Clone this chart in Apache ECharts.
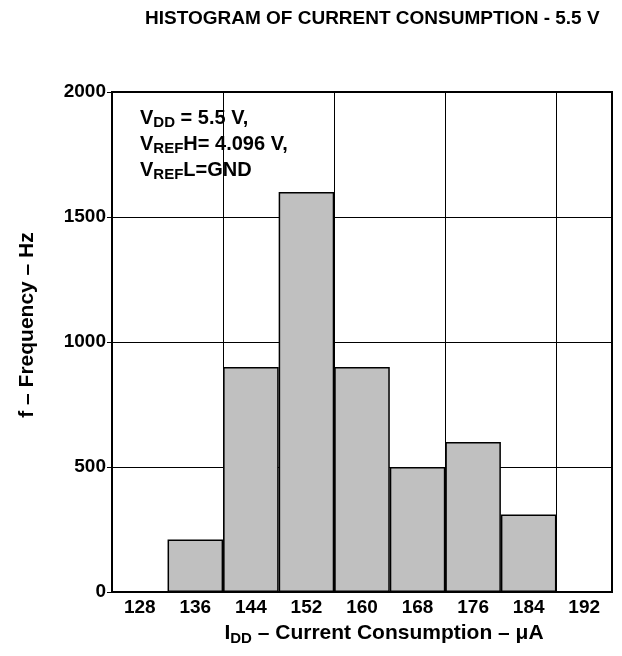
<!DOCTYPE html>
<html>
<head>
    <meta charset="utf-8">
    <title>Histogram of current consumption</title>
    <script src="https://cdn.jsdelivr.net/npm/echarts@6/dist/echarts.min.js"></script>
    <style>
        body { margin: 0; background: #fff; }
    </style>
</head>
<body>
    <div id="main" style="width: 622px;height:656px;"></div>
    <script type="text/javascript">
        // bins (uA) and counts
        var bins = ['128', '136', '144', '152', '160', '168', '176', '184', '192'];
        var counts = [0, 210, 900, 1600, 900, 500, 600, 310, 0];
        var yTicks = [0, 500, 1000, 1500, 2000];

        var font = 'Liberation Sans, Arial, sans-serif';
        var myChart = echarts.init(document.getElementById('main'));

        myChart.setOption({
            animation: false,
            title: [{
                text: 'HISTOGRAM OF CURRENT CONSUMPTION - 5.5 V',
                left: 140,
                top: 4,
                textStyle: { fontFamily: font, fontSize: 19, fontWeight: 'bold', color: '#000' }
            }, {
                // conditions note inside the plot
                text: '{m|V}{s|DD}{m| = 5.5 V,}\n{m|V}{s|REF}{m|H= 4.096 V,}\n{m|V}{s|REF}{m|L=GND}',
                left: 135,
                top: 100,
                textStyle: {
                    fontFamily: font,
                    rich: {
                        m: { fontFamily: font, fontSize: 20, fontWeight: 'bold', color: '#000', lineHeight: 26 },
                        s: { fontFamily: font, fontSize: 15, fontWeight: 'bold', color: '#000', lineHeight: 26, padding: [10, 0, 0, 0] }
                    }
                }
            }],
            grid: {
                left: 112, right: 10, top: 92, bottom: 64,
                show: true, borderColor: '#000', borderWidth: 2
            },
            xAxis: {
                type: 'category',
                data: bins,
                boundaryGap: true,
                name: '{m|I}{s|DD}{m| – Current Consumption – μA}',
                nameLocation: 'middle',
                nameGap: 29,
                nameTextStyle: {
                    padding: [0, 0, 0, 44],
                    rich: {
                        m: { fontFamily: font, fontSize: 21, fontWeight: 'bold', color: '#000' },
                        s: { fontFamily: font, fontSize: 15, fontWeight: 'bold', color: '#000', padding: [10, 0, 0, 0] }
                    }
                },
                axisLine: { show: true, lineStyle: { color: '#000', width: 2 } },
                axisTick: { show: false },
                axisLabel: { margin: 6, fontFamily: font, fontSize: 19, fontWeight: 'bold', color: '#000' },
                splitLine: { show: true, interval: 1, lineStyle: { color: '#000', width: 1 } }
            },
            yAxis: {
                type: 'value',
                min: yTicks[0],
                max: yTicks[yTicks.length - 1],
                interval: 500,
                name: 'f – Frequency – Hz',
                nameLocation: 'middle',
                nameGap: 74,
                nameTextStyle: { fontFamily: font, fontSize: 21, fontWeight: 'bold', color: '#000', padding: [0, 0, 0, 34] },
                axisLine: { show: true, lineStyle: { color: '#000', width: 2 } },
                axisTick: { show: true, length: 5, lineStyle: { color: '#000', width: 1 } },
                axisLabel: {
                    margin: 6, fontFamily: font, fontSize: 19, fontWeight: 'bold', color: '#000',
                    formatter: function (v) { return String(v); }
                },
                splitLine: { show: true, lineStyle: { color: '#000', width: 1 } }
            },
            series: [{
                name: 'count',
                type: 'bar',
                data: counts,
                barWidth: '100%',
                barCategoryGap: 0,
                itemStyle: { color: '#c0c0c0', borderColor: '#000', borderWidth: 1.5 }
            }]
        });
    </script>
</body>
</html>
